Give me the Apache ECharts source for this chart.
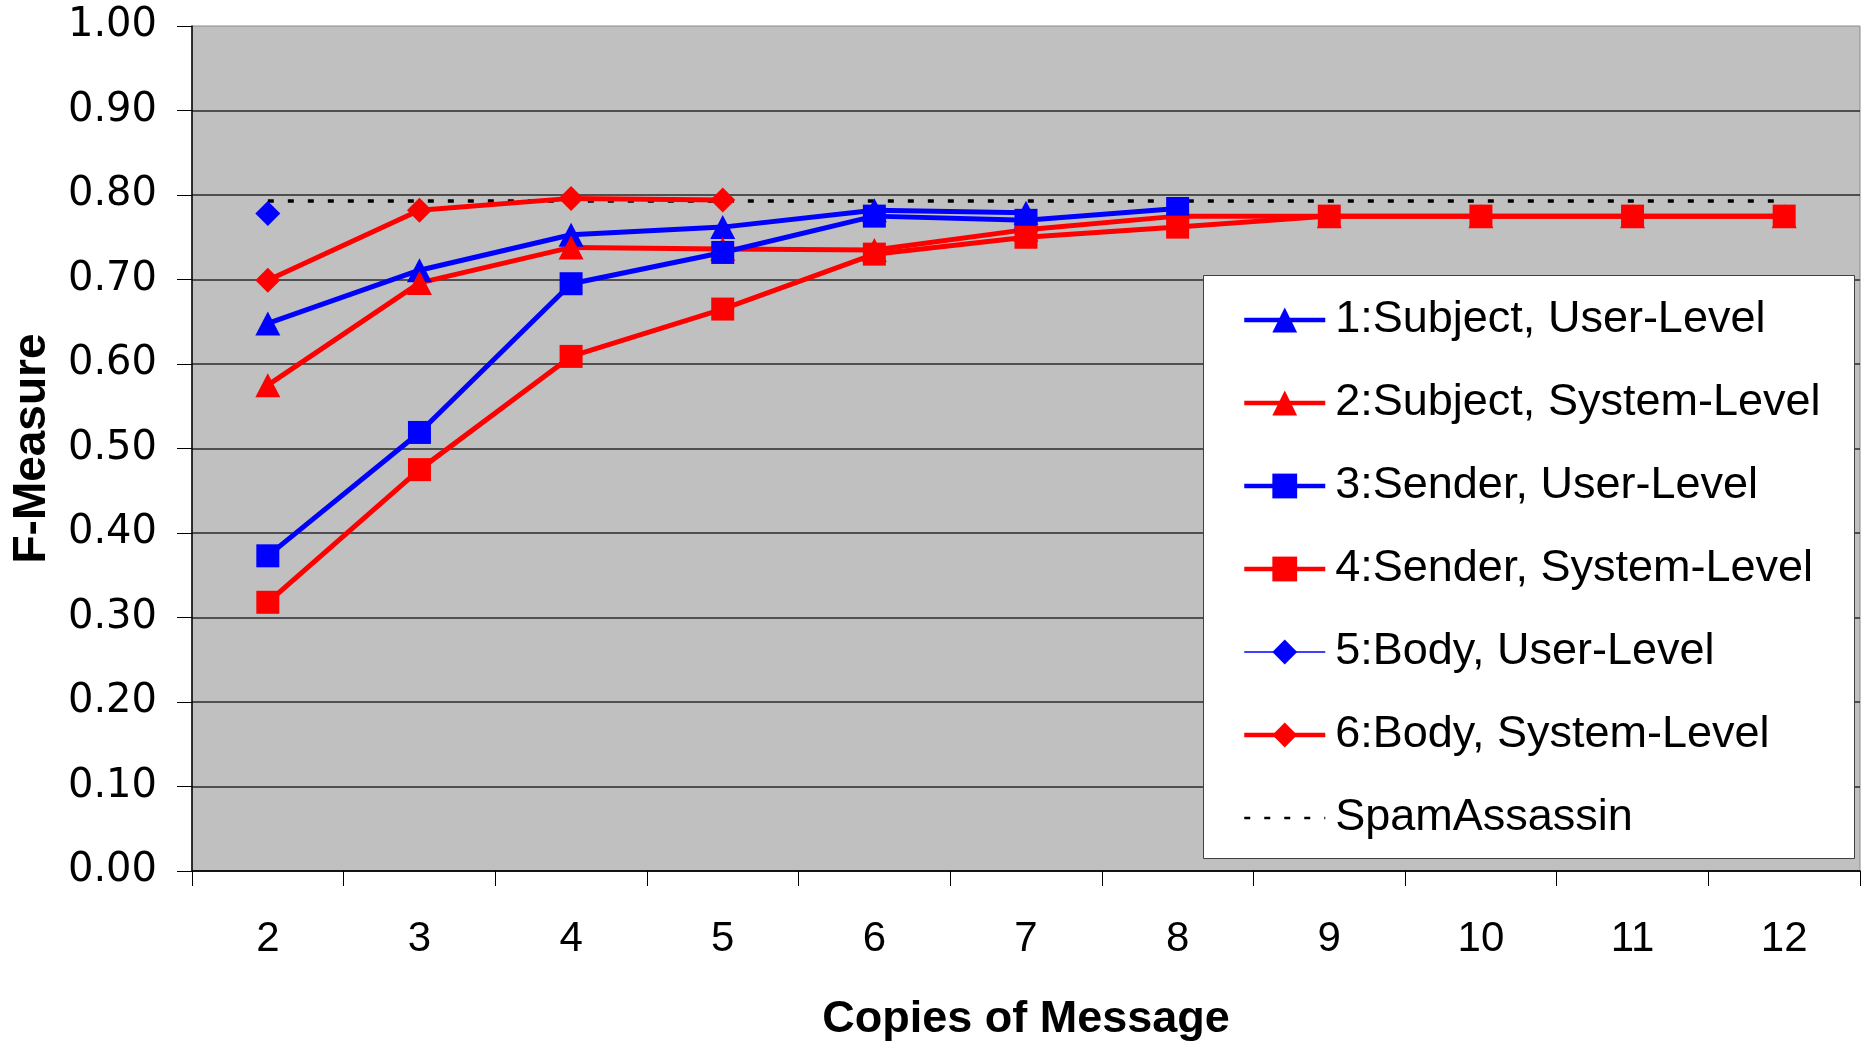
<!DOCTYPE html>
<html>
<head>
<meta charset="utf-8">
<title>F-Measure vs Copies of Message</title>
<script src="https://cdn.jsdelivr.net/npm/echarts@6/dist/echarts.min.js"></script>
<style>
  html, body { margin: 0; padding: 0; background: #ffffff; }
  #chart { width: 1863px; height: 1044px; }
</style>
</head>
<body>
<div id="chart"></div>
<script>
// Number of copies of a message (x categories)
const copies = ['2', '3', '4', '5', '6', '7', '8', '9', '10', '11', '12'];

// F-Measure per configuration
const subjectUser   = [0.648, 0.711, 0.753, 0.762, 0.782, 0.779, null, null, null, null, null];
const subjectSystem = [0.575, 0.696, 0.738, 0.736, 0.735, 0.759, 0.775, 0.775, 0.775, 0.775, 0.775];
const senderUser    = [0.373, 0.519, 0.695, 0.732, 0.775, 0.770, 0.784, null, null, null, null];
const senderSystem  = [0.318, 0.475, 0.609, 0.665, 0.730, 0.750, 0.762, 0.775, 0.775, 0.775, 0.775];
const bodyUser      = [0.778, null, null, null, null, null, null, null, null, null, null];
const bodySystem    = [0.699, 0.782, 0.796, 0.794, null, null, null, null, null, null, null];
const spamAssassin  = [0.793, 0.793, 0.793, 0.793, 0.793, 0.793, 0.793, 0.793, 0.793, 0.793, 0.793];

// Y-axis tick values
const yTicks = [0, 0.1, 0.2, 0.3, 0.4, 0.5, 0.6, 0.7, 0.8, 0.9, 1.0];

const BLUE = '#0000ff';
const RED = '#ff0000';
const SANS = '"Liberation Sans", Arial, sans-serif';

function lineSeries(name, data, color, symbol, size, width) {
  return {
    name: name,
    type: 'line',
    data: data,
    symbol: symbol,
    symbolSize: size,
    showSymbol: true,
    connectNulls: false,
    lineStyle: { color: color, width: width },
    itemStyle: { color: color },
    emphasis: { disabled: true },
    z: 2
  };
}

const chart = echarts.init(document.getElementById('chart'), null, { renderer: 'canvas' });

chart.setOption({
  animation: false,
  backgroundColor: '#ffffff',
  grid: {
    left: 192,
    right: 3,
    top: 26,
    bottom: 173,
    show: true,
    backgroundColor: '#c0c0c0',
    borderColor: '#8a8a8a',
    borderWidth: 1,
    outerBoundsMode: 'none'
  },
  xAxis: {
    type: 'category',
    data: copies,
    boundaryGap: true,
    name: 'Copies of Message',
    nameLocation: 'middle',
    nameGap: 126,
    nameTextStyle: { fontFamily: SANS, fontSize: 45, fontWeight: 'bold', color: '#000' },
    axisLine: { show: true, lineStyle: { color: '#000', width: 1.5 } },
    axisTick: { show: true, inside: false, length: 15, interval: 0, alignWithLabel: false, lineStyle: { color: '#000', width: 1 } },
    axisLabel: { fontFamily: SANS, fontSize: 42, color: '#000', margin: 47, interval: 0 },
    splitLine: { show: false }
  },
  yAxis: {
    type: 'value',
    min: yTicks[0],
    max: yTicks[yTicks.length - 1],
    interval: 0.1,
    name: 'F-Measure',
    nameLocation: 'middle',
    nameRotate: 90,
    nameGap: 137,
    nameTextStyle: { fontFamily: SANS, fontSize: 46, fontWeight: 'bold', color: '#000' },
    axisLine: { show: true, lineStyle: { color: '#000', width: 1.5 } },
    axisTick: { show: true, inside: false, length: 15, lineStyle: { color: '#000', width: 1 } },
    axisLabel: {
      fontFamily: '"DejaVu Sans", sans-serif',
      fontSize: 40,
      color: '#000',
      margin: 35,
      formatter: v => v.toFixed(2)
    },
    splitLine: { show: true, showMaxLine: false, lineStyle: { color: '#2a2a2a', width: 1.5 } }
  },
  legend: {
    orient: 'vertical',
    left: 1203,
    top: 275,
    padding: [20, 30, 15, 39],
    itemGap: 33,
    itemWidth: 81,
    itemHeight: 31,
    selectedMode: false,
    lineStyle: { width: 4.5 },
    textStyle: { fontFamily: SANS, fontSize: 45, color: '#000', lineHeight: 50, padding: [0, 0, 0, 5] },
    data: [
      { name: '1:Subject, User-Level' },
      { name: '2:Subject, System-Level' },
      { name: '3:Sender, User-Level' },
      { name: '4:Sender, System-Level' },
      { name: '5:Body, User-Level', lineStyle: { width: 1.5 } },
      { name: '6:Body, System-Level' },
      { name: 'SpamAssassin', lineStyle: { type: [6, 14], width: 2.5, color: '#000' } }
    ],
    z: 6
  },
  graphic: [{
    type: 'rect',
    z: 5,
    shape: { x: 1203.5, y: 275.5, width: 651, height: 583 },
    style: { fill: '#ffffff', stroke: '#404040', lineWidth: 1 }
  }],
  series: [
    lineSeries('1:Subject, User-Level', subjectUser, BLUE, 'triangle', [25, 24], 5),
    lineSeries('2:Subject, System-Level', subjectSystem, RED, 'triangle', [25, 24], 5),
    lineSeries('3:Sender, User-Level', senderUser, BLUE, 'rect', 23, 5),
    lineSeries('4:Sender, System-Level', senderSystem, RED, 'rect', 23, 5),
    lineSeries('5:Body, User-Level', bodyUser, BLUE, 'diamond', 25, 1.5),
    lineSeries('6:Body, System-Level', bodySystem, RED, 'diamond', 25, 5),
    {
      name: 'SpamAssassin',
      type: 'line',
      data: spamAssassin,
      symbol: 'none',
      lineStyle: { color: '#000', width: 3.5, type: [6, 14] },
      itemStyle: { color: 'transparent' },
      emphasis: { disabled: true },
      z: 1
    }
  ]
});
</script>
</body>
</html>
